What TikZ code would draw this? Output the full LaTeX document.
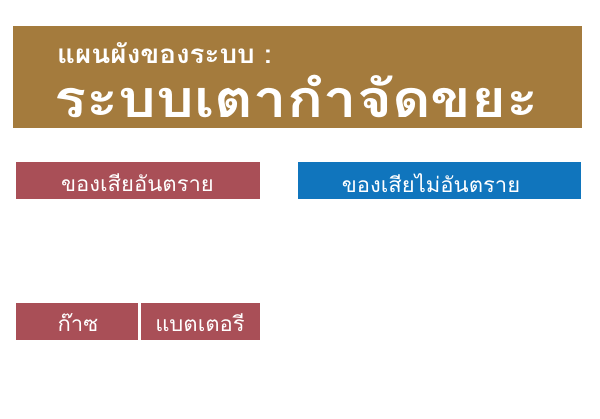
\documentclass[tikz,border=0pt]{standalone}
\usepackage{fontspec}
\usepackage{graphicx}
\newfontfamily\thaifont[Script=Thai]{Loma}
\definecolor{brownbg}{HTML}{A47B3D}
\definecolor{redbg}{HTML}{A94F57}
\definecolor{bluebg}{HTML}{1075BD}
\begin{document}
\begin{tikzpicture}[x=1pt,y=-1pt,
  boxr/.style={fill=redbg,draw=white,line width=0.5pt},
  boxb/.style={fill=bluebg,draw=white,line width=0.5pt},
  lbl/.style={text=white,font=\thaifont\fontsize{21}{23}\selectfont}]
\useasboundingbox (0,0) rectangle (600,418);
\fill[brownbg] (13,26) rectangle (582,128);
\node[anchor=base west,text=white,font=\thaifont\bfseries\fontsize{26}{28}\selectfont,inner sep=0] (t1) at (57,63) {\scalebox{1.07}[1]{แผนผังของระบบ :}};
\node[anchor=base west,text=white,font=\thaifont\bfseries\fontsize{52}{54}\selectfont,inner sep=0] (t2) at (54,117) {\scalebox{1.15}[1]{ระบบเตากำจัดขยะ}};
\draw[boxr] (15,161) rectangle (260,199);
\node[lbl] (a) at (137.5,183) {\scalebox{1.05}[1]{ของเสียอันตราย}};
\draw[boxb] (297,161) rectangle (581,199);
\node[lbl] (b) at (431,183) {\scalebox{1.05}[1]{ของเสียไม่อันตราย}};
\draw[boxr] (15,302) rectangle (138.5,340);
\node[lbl] (c) at (78,323) {\scalebox{1.05}[1]{ก๊าซ}};
\draw[boxr] (140.5,302) rectangle (260,340);
\node[lbl] (d) at (200,323) {\scalebox{1.05}[1]{แบตเตอรี}};
\end{tikzpicture}
\end{document}
